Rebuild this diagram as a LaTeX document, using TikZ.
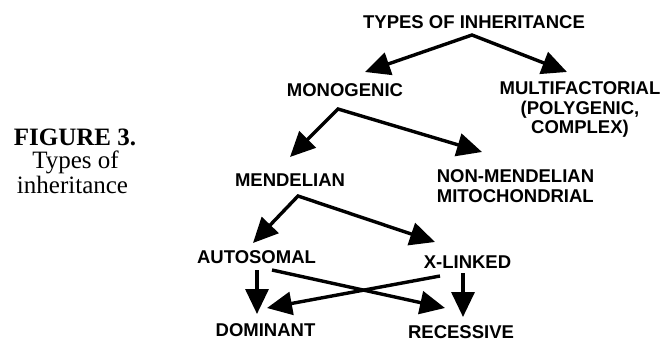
\documentclass[tikz,border=0pt]{standalone}
\usepackage{fontspec}
\setmainfont{Liberation Serif}
\newfontfamily\arialfont{Liberation Sans}
\usetikzlibrary{arrows.meta}
\begin{document}
\begin{tikzpicture}[x=1pt,y=-1pt,
  lbl/.style={font=\arialfont\bfseries\fontsize{18.5}{19.5}\selectfont, inner sep=0pt, anchor=base, align=center},
  captext/.style={font=\fontsize{25}{25}\selectfont, inner sep=0pt, anchor=base, align=center},
  conn/.style={line width=3.4pt, -{Triangle[length=25pt,width=23pt]}},
  conn2/.style={line width=3.4pt, {Triangle[length=25pt,width=23pt]}-{Triangle[length=25pt,width=23pt]}, line join=miter}]
\useasboundingbox (0,0) rectangle (660,339);
% caption
\node[captext, font=\bfseries\fontsize{25}{25}\selectfont] (fig) at (75,146) {FIGURE 3.};
\node[captext] (cap1) at (75.5,168) {Types of};
\node[captext] (cap2) at (72.5,193) {inheritance};
% nodes
\node[lbl] (types) at (474,28.6) {TYPES OF INHERITANCE};
\node[lbl] (mono) at (345,96.6) {MONOGENIC};
\node[lbl] (multi) at (580,133.6) {MULTIFACTORIAL\\(POLYGENIC,\\COMPLEX)};
\node[lbl] (mend) at (290,186.6) {MENDELIAN};
\node[lbl, align=left] (nonmend) at (515.5,202) {NON-MENDELIAN\\MITOCHONDRIAL};
\node[lbl] (auto) at (256.5,263.6) {AUTOSOMAL};
\node[lbl] (xl) at (467.5,268.6) {X-LINKED};
\node[lbl] (dom) at (265.5,336.5) {DOMINANT};
\node[lbl] (rec) at (461,338.5) {RECESSIVE};
% connector points
\coordinate (ta) at (472,35);
\coordinate (ma) at (338,109);
\coordinate (mda) at (298,196);
\coordinate (tmono) at (365,72);
\coordinate (tmulti) at (567,72);
\coordinate (tmend) at (290,157);
\coordinate (tnon) at (482,152);
\coordinate (tauto) at (253,243);
\coordinate (txl) at (435,242);
\coordinate (autoS) at (257,270);
\coordinate (autoR) at (272,270);
\coordinate (xlS) at (463,273);
\coordinate (xlL) at (440,276);
\coordinate (tdom) at (257,314);
\coordinate (tdomx) at (267,308);
\coordinate (trec) at (463,317);
\coordinate (trecx) at (445,308);
% connectors
\draw[conn2] (tmono) -- (ta) -- (tmulti);
\draw[conn2] (tmend) -- (ma) -- (tnon);
\draw[conn2] (tauto) -- (mda) -- (txl);
\draw[conn] (autoS) -- (tdom);
\draw[conn] (xlS) -- (trec);
\draw[conn] (autoR) -- (trecx);
\draw[conn] (xlL) -- (tdomx);
\end{tikzpicture}
\end{document}
